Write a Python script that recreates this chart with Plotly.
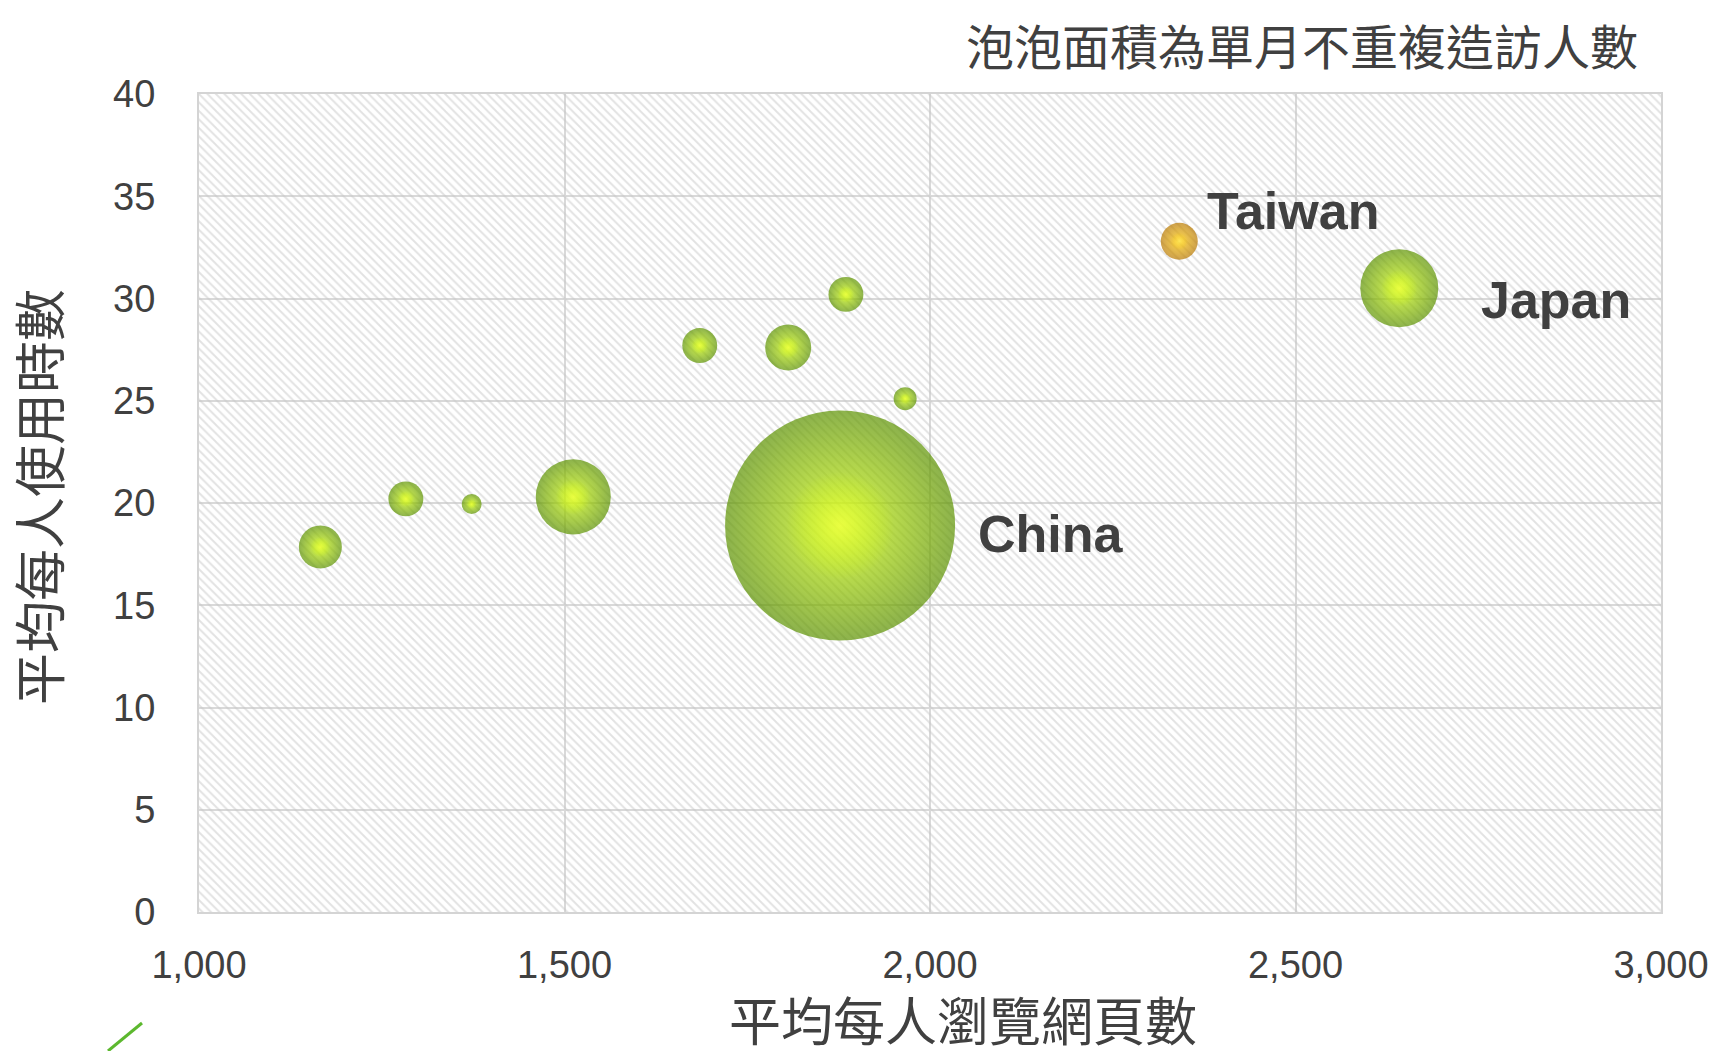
import plotly.graph_objects as go

# ---------------- data ----------------
labels = ["", "", "", "", "", "", "", "", "China", "Taiwan", "Japan"]
pageviews = [1166, 1283, 1373, 1512, 1685, 1806, 1885, 1966, 1877, 2341, 2642]   # 平均每人瀏覽網頁數
hours = [17.85, 20.2, 19.95, 20.3, 27.7, 27.6, 30.2, 25.1, 18.9, 32.8, 30.5]      # 平均每人使用時數
visitors = [12.6, 8.3, 2.7, 38.3, 8.3, 14.4, 8.3, 3.6, 360, 9.3, 41.4]           # 單月不重複造訪人數 (百萬, 估)
highlight = "Taiwan"

x_range = [1000, 3000]
y_range = [0, 40]
x_ticks = [1000, 1500, 2000, 2500, 3000]
x_ticktext = ["1,000", "1,500", "2,000", "2,500", "3,000"]
y_ticks = [0, 5, 10, 15, 20, 25, 30, 35, 40]

x_title = "平均每人瀏覽網頁數"
y_title = "平均每人使用時數"
note = "泡泡面積為單月不重複造訪人數"

# ---------------- style ----------------
W, H = 1712, 1051
ML, MR, MT, MB = 199, 51, 94, 139
PW, PH = W - ML - MR, H - MT - MB
MAX_DIAM = 230
sizeref = 2 * max(visitors) / MAX_DIAM ** 2
label_offsets = {"China": (136, -8), "Taiwan": (26, 30), "Japan": (80, -12)}
TXT = "#404040"
CJK = "Noto Sans CJK TC, Noto Sans CJK SC, sans-serif"
LAT = "Liberation Sans, Arial, sans-serif"

# sphere shading layers: (area factor, rim colour, centre colour)
green_layers = [
    (1.00, "#5c9200", "#ccfa00"),
    (0.22, "rgba(206,250,0,0)", "rgba(240,255,60,0.95)"),
]
gold_layers = [
    (1.00, "#b87800", "#ffc800"),
    (0.22, "rgba(255,204,0,0)", "rgba(255,238,100,0.95)"),
]

fig = go.Figure()

# hatched plot background (spans the axis ranges)
fig.add_trace(go.Bar(
    x=[(x_range[0] + x_range[1]) / 2], y=[y_range[1] - y_range[0]], base=[y_range[0]],
    width=[x_range[1] - x_range[0]],
    marker=dict(color="rgba(0,0,0,0)", line=dict(width=0),
                pattern=dict(shape="\\", fgcolor="#c6c6c6", bgcolor="rgba(0,0,0,0)",
                             size=6, solidity=0.32)),
    hoverinfo="skip", showlegend=False,
))

order = sorted(range(len(labels)), key=lambda i: -visitors[i])
for i in order:
    layers = gold_layers if labels[i] == highlight else green_layers
    for k, (fac, rim, core) in enumerate(layers):
        fig.add_trace(go.Scatter(
            x=[pageviews[i]], y=[hours[i]], mode="markers",
            marker=dict(size=[visitors[i] * fac], sizemode="area", sizeref=sizeref,
                        color=rim, line=dict(width=0),
                        gradient=dict(type="radial", color=core)),
            showlegend=False, hoverinfo="x+y" if k == 0 else "skip",
        ))

annotations = []
for i, l in enumerate(labels):
    if l:
        dx, dy = label_offsets[l]
        annotations.append(dict(
            x=pageviews[i], y=hours[i], xref="x", yref="y", text=f"<b>{l}</b>",
            showarrow=False, xanchor="left", yanchor="middle", xshift=dx, yshift=dy,
            font=dict(family=LAT, size=52, color=TXT),
        ))

annotations += [
    dict(text=x_title, xref="paper", yref="paper", x=(963 - ML) / PW, y=(H - MB - 1018) / PH,
         showarrow=False, xanchor="center", yanchor="middle",
         font=dict(family=CJK, size=52, color=TXT)),
    dict(text=y_title, xref="paper", yref="paper", x=(37 - ML) / PW, y=(H - MB - 497) / PH,
         showarrow=False, xanchor="center", yanchor="middle", textangle=-90,
         font=dict(family=CJK, size=52, color=TXT)),
    dict(text=note, xref="paper", yref="paper", x=(1640 - ML) / PW, y=(H - MB - 44) / PH,
         showarrow=False, xanchor="right", yanchor="middle",
         font=dict(family=CJK, size=48, color=TXT)),
]

fig.update_layout(
    width=W, height=H, margin=dict(l=ML, r=MR, t=MT, b=MB, autoexpand=False),
    paper_bgcolor="white", plot_bgcolor="white",
    annotations=annotations,
    shapes=[dict(type="line", xref="paper", yref="paper",
                 x0=(108 - ML) / PW, y0=(H - MB - 1051) / PH,
                 x1=(142 - ML) / PW, y1=(H - MB - 1023) / PH,
                 line=dict(color="#5cb82e", width=3))],
    xaxis=dict(range=x_range, tickvals=x_ticks, ticktext=x_ticktext,
               showgrid=True, gridcolor="#d9d9d9", gridwidth=2,
               showline=True, linecolor="#d4d4d4", linewidth=2, mirror=True,
               zeroline=False, ticks="outside", ticklen=0, tickcolor="rgba(0,0,0,0)",
               ticklabelstandoff=18,
               tickfont=dict(family=LAT, size=38, color=TXT), fixedrange=True),
    yaxis=dict(range=y_range, tickvals=y_ticks,
               showgrid=True, gridcolor="#d9d9d9", gridwidth=2,
               showline=True, linecolor="#d4d4d4", linewidth=2, mirror=True,
               zeroline=False, ticks="outside", ticklen=0, tickcolor="rgba(0,0,0,0)",
               ticklabelstandoff=34,
               tickfont=dict(family=LAT, size=38, color=TXT), fixedrange=True),
    bargap=0,
)

fig.write_html("out.html")
